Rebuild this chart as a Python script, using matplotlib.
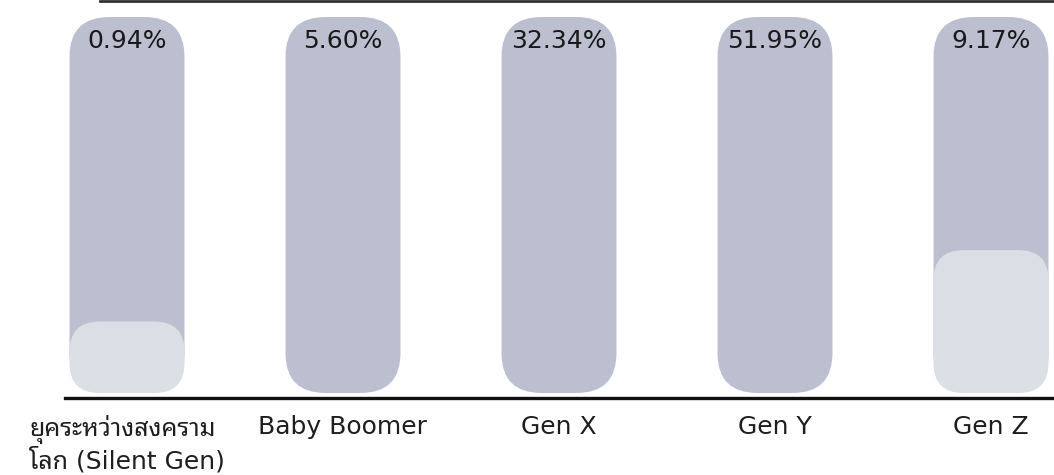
import matplotlib
matplotlib.use("Agg")
import matplotlib.pyplot as plt
from matplotlib import font_manager as fm
from matplotlib.patches import FancyBboxPatch
import numpy as np

# ---- data ----
categories = ["ยุคระหว่างสงคราม\nโลก (Silent Gen)", "Baby Boomer", "Gen X", "Gen Y", "Gen Z"]
shares = [0.94, 5.60, 32.34, 51.95, 9.17]
share_labels = ["0.94%", "5.60%", "32.34%", "51.95%", "9.17%"]
track_height = [100, 100, 100, 100, 100]
pale_fill = [19, 0, 0, 0, 38]

# ---- fonts ----
available = {f.name for f in fm.fontManager.ttflist}
thai_candidates = ["Noto Sans Thai Looped", "Sarabun", "IBM Plex Sans Thai Looped",
                   "Noto Sans Thai", "Niramit", "Bai Jamjuree", "Athiti"]
thai = next((c for c in thai_candidates if c in available), "Athiti")
families = ["DejaVu Sans", thai]
plt.rcParams["font.family"] = families

W, H, DPI = 10.54, 4.75, 100
fig = plt.figure(figsize=(W, H), dpi=DPI)

# axes: x from px 65 to 1054, y from baseline px 398 up to top px 0
left_px, right_px = 65, 1054
base_px = 398
ax = fig.add_axes([left_px / 1054, (475 - base_px) / 475,
                   (right_px - left_px) / 1054, base_px / 475])

x = np.arange(len(categories))
unit_px = 216.0
xlim = (-(127 - left_px) / unit_px, 4 + (right_px - 991) / unit_px)
ax.set_xlim(*xlim)
bar_px = 376.0  # pixel height of a 100 track
ymax = 100 * base_px / bar_px
ax.set_ylim(0, ymax)

# aspect to keep rounded corners circular
x_per_px = (xlim[1] - xlim[0]) / (right_px - left_px)
y_per_px = ymax / base_px
aspect = y_per_px / x_per_px

width = 115 / unit_px
radius = 40 / unit_px
gap = 5 * y_per_px

track_color = "#bcbfd0"
pale_color = "#dcdee5"

for xi, h, p in zip(x, track_height, pale_fill):
    patch = FancyBboxPatch((xi - width / 2, gap), width, h,
                           boxstyle=f"round,pad=0,rounding_size={radius}",
                           mutation_aspect=aspect, facecolor=track_color,
                           edgecolor="none", zorder=2)
    ax.add_patch(patch)
    if p > 0:
        pp = FancyBboxPatch((xi - width / 2, gap), width, p,
                            boxstyle=f"round,pad=0,rounding_size={radius * 0.75}",
                            mutation_aspect=aspect, facecolor=pale_color,
                            edgecolor="none", zorder=3)
        ax.add_patch(pp)

for xi, h, lab in zip(x, track_height, share_labels):
    ax.text(xi, gap + h - 24 * y_per_px, lab, ha="center", va="center",
            fontsize=18, color="#1a1a1a", zorder=4)

# baseline
ax.axhline(0, color="#111111", lw=2.4, zorder=5, clip_on=False)

ax.set_xticks(x)
ax.set_xticklabels(categories, fontsize=18, color="#1e1e1e",
                   linespacing=1.15, multialignment="left")
ax.tick_params(axis="x", length=0, pad=12)
ax.set_yticks([])
for s in ax.spines.values():
    s.set_visible(False)
ax.patch.set_alpha(0)

# dark page edge at the top of the scan
fig.add_artist(plt.Line2D([100 / 1054, 1.0], [1 - 1 / 475, 1 - 1 / 475],
                          transform=fig.transFigure, color="#333333", lw=2))

fig.savefig("out.png", dpi=DPI)
